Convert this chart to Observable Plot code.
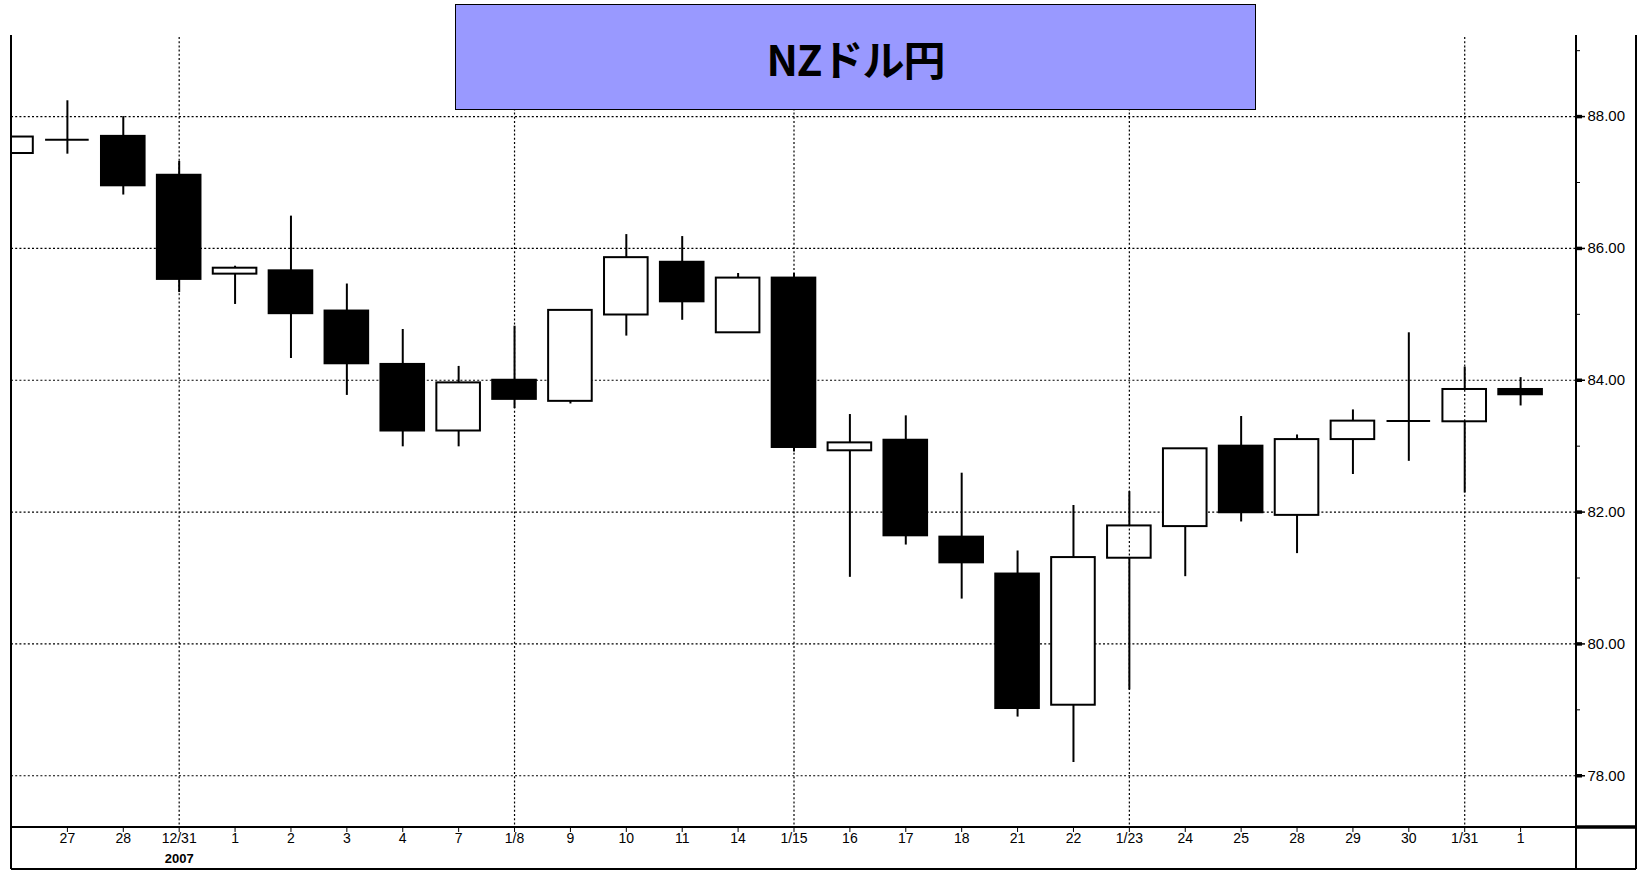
<!DOCTYPE html>
<html><head><meta charset="utf-8">
<script src="https://cdn.jsdelivr.net/npm/d3@7"></script>
<script src="https://cdn.jsdelivr.net/npm/@observablehq/plot@0.6"></script>
<style>
html,body{margin:0;padding:0;background:#fff;}
#wrap{position:relative;width:1641px;height:871px;overflow:hidden;}
#title{position:absolute;left:455px;top:4px;width:801px;height:106px;box-sizing:border-box;background:#9999ff;border:1.5px solid #000;display:flex;align-items:center;justify-content:center;font-family:"Noto Sans CJK JP","Noto Sans",sans-serif;font-weight:bold;font-size:42px;color:#000;letter-spacing:-1px;}
</style></head>
<body>
<div id="wrap"><div id="chart"></div><div id="title">NZドル円</div></div>
<script>
// category labels (index 0 = 12/26, partly cut off at the left edge)
const labels = ["26","27","28","12/31","1","2","3","4","7","1/8","9","10","11","14","1/15","16","17","18","21","22","1/23","24","25","28","29","30","1/31","1"];
const openV  = [87.44,87.65,87.70,87.11,85.61,85.66,85.05,84.24,83.23,84.00,83.68,84.99,85.79,84.72,85.55,82.93,83.09,81.62,81.06,79.07,81.30,81.78,83.00,81.95,83.10,83.38,83.37,83.86];
const closeV = [87.69,87.65,86.95,85.53,85.70,85.01,84.25,83.23,83.96,83.71,85.06,85.86,85.19,85.55,82.98,83.05,81.64,81.23,79.02,81.31,81.79,82.96,81.99,83.10,83.38,83.38,83.86,83.78];
const highV  = [87.69,88.24,88.00,87.32,85.73,86.49,85.46,84.77,84.21,84.82,85.07,86.21,86.18,85.62,85.62,83.48,83.46,82.59,81.41,82.10,82.31,82.96,83.45,83.17,83.55,84.72,84.20,84.04];
const lowV   = [87.44,87.43,86.81,85.33,85.15,84.33,83.77,82.99,82.99,83.57,83.64,84.67,84.91,84.72,82.91,81.01,81.50,80.68,78.89,78.20,79.30,81.02,81.85,81.37,82.57,82.77,82.29,83.61];
const yTicks = [78,80,82,84,86,88];
const yMinor = [77,79,81,83,85,87,89];
const gridX  = [3,9,14,20,26];
const yearLabel = "2007";

const data = labels.map((l,i)=>({i, label:l, open:openV[i], close:closeV[i], high:highV[i], low:lowV[i]}));
const bodies = data.filter(d=>d.open!==d.close);
const doji = data.filter(d=>d.open===d.close);
const hw = 0.39;
const grid = {stroke:"#000", strokeDasharray:"2,2.2", strokeWidth:1.2};

const plot = Plot.plot({
  width:1641, height:871,
  marginLeft:11, marginRight:65, marginTop:37, marginBottom:45,
  style:{fontFamily:"'Liberation Sans', Arial, sans-serif", fontSize:"14px", color:"#000", background:"#fff"},
  x:{type:"linear", domain:[0,28]},
  y:{domain:[77.23,89.2]},
  marks:[
    Plot.ruleY(yTicks, grid),
    Plot.ruleX(data, {x:"i", y1:"low", y2:"high", stroke:"#000", strokeWidth:2, clip:"frame"}),
    Plot.rect(bodies, {x1:d=>d.i-hw, x2:d=>d.i+hw, y1:"open", y2:"close",
      fill:d=>d.close<d.open?"#000":"#fff", stroke:"#000", strokeWidth:2, clip:"frame"}),
    Plot.ruleY(doji, {y:"open", x1:d=>d.i-hw, x2:d=>d.i+hw, stroke:"#000", strokeWidth:2, clip:"frame"}),
    Plot.ruleX(gridX, grid),
    Plot.axisY(yTicks, {anchor:"right", tickSize:8, tickPadding:3, tickFormat:d=>d.toFixed(2), fontSize:15, label:null, strokeWidth:1.5}),
    Plot.axisY(yTicks, {anchor:"right", tickSize:5, tickFormat:()=>"", label:null, strokeWidth:3.5}),
    Plot.axisY(yMinor.filter(v=>v>77.23&&v<89.2), {anchor:"right", tickSize:3, tickFormat:()=>"", label:null}),
    Plot.axisX(d3.range(1,28), {anchor:"bottom", tickSize:6, tickPadding:1, tickFormat:i=>labels[i], label:null, fontSize:14}),
    Plot.text([yearLabel], {x:()=>3, frameAnchor:"bottom", dy:36, text:d=>d, fontSize:13, fontWeight:"bold"})
  ]
});
document.getElementById("chart").appendChild(plot);

// frame lines around the plot, positioned from the plot's own scales
const xs = plot.scale("x"), ys = plot.scale("y");
const L = xs.apply(0), R = xs.apply(28), B = ys.apply(77.23);
const topY = 35, botY = 869, outerX = R + 60;
const svg = d3.select(plot);
const g = svg.append("g").attr("stroke","#000").attr("fill","none");
g.append("line").attr("x1",L).attr("x2",L).attr("y1",topY).attr("y2",botY).attr("stroke-width",2);
g.append("line").attr("x1",R).attr("x2",R).attr("y1",topY).attr("y2",botY).attr("stroke-width",2);
g.append("line").attr("x1",outerX).attr("x2",outerX).attr("y1",topY).attr("y2",botY).attr("stroke-width",2);
g.append("line").attr("x1",L).attr("x2",R).attr("y1",B+1).attr("y2",B+1).attr("stroke-width",1.8);
g.append("line").attr("x1",R).attr("x2",outerX).attr("y1",B+1).attr("y2",B+1).attr("stroke-width",3.5);
g.append("line").attr("x1",L).attr("x2",outerX).attr("y1",botY).attr("y2",botY).attr("stroke-width",2);
</script>
</body></html>
